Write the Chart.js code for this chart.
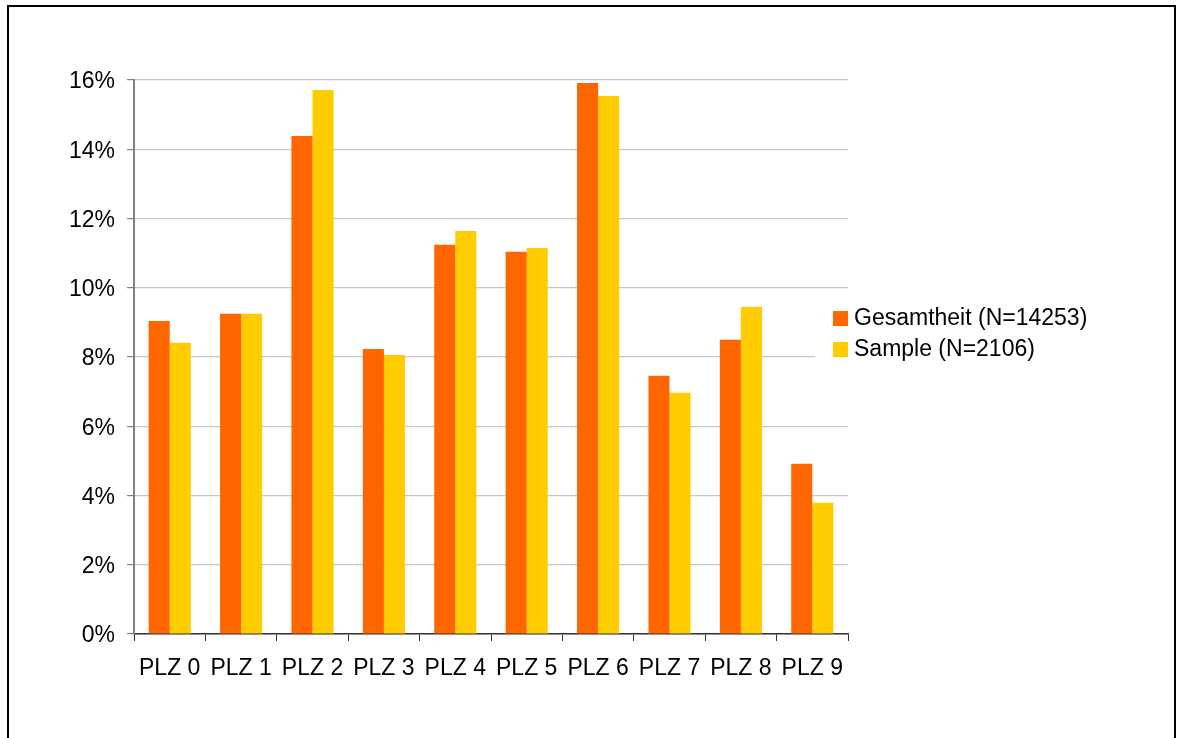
<!DOCTYPE html>
<html>
<head>
<meta charset="utf-8">
<script src="https://cdn.jsdelivr.net/npm/chart.js@4"></script>
<style>
  body { margin: 0; background: #fff; }
  #wrap { position: relative; width: 1183px; height: 738px; }
  #frame { position: absolute; left: 7px; top: 5px; width: 1169px; height: 760px;
           border: 2px solid #000; border-bottom: none; box-sizing: border-box; }
  canvas { position: absolute; left: 0; top: 0; }
</style>
</head>
<body>
<div id="wrap">
  <div id="frame"></div>
  <canvas id="plzChart" width="1183" height="738"></canvas>
</div>
<script>
// Daten
const categories = ['PLZ 0', 'PLZ 1', 'PLZ 2', 'PLZ 3', 'PLZ 4', 'PLZ 5', 'PLZ 6', 'PLZ 7', 'PLZ 8', 'PLZ 9'];
const gesamtheit = [9.04, 9.25, 14.38, 8.23, 11.24, 11.04, 15.91, 7.46, 8.50, 4.92];
const sample = [8.41, 9.25, 15.71, 8.06, 11.64, 11.15, 15.54, 6.97, 9.45, 3.79];
const yTicks = [0, 2, 4, 6, 8, 10, 12, 14, 16];

const FONT = { family: '"Liberation Sans", Arial, sans-serif', size: 23 };

// Legende rechts, mit weissem Kasten über dem Gitter
const sideLegend = {
  id: 'sideLegend',
  afterDraw(chart) {
    const c = chart.ctx;
    const area = chart.chartArea;
    const x0 = area.right - 33;
    const y0 = 298;
    c.save();
    c.fillStyle = '#fff';
    c.fillRect(x0, y0, 300, 70);
    c.font = FONT.size + 'px ' + FONT.family;
    c.textBaseline = 'middle';
    chart.data.datasets.forEach((ds, i) => {
      const cy = y0 + 20 + i * 31;
      c.fillStyle = ds.backgroundColor;
      c.fillRect(x0 + 18, cy - 7, 15, 15);
      c.fillStyle = '#000';
      c.fillText(ds.label, x0 + 39, cy + 1);
    });
    c.restore();
  }
};

const ctx = document.getElementById('plzChart').getContext('2d');
new Chart(ctx, {
  type: 'bar',
  data: {
    labels: categories,
    datasets: [
      { label: 'Gesamtheit (N=14253)', data: gesamtheit, backgroundColor: '#ff6600' },
      { label: 'Sample (N=2106)', data: sample, backgroundColor: '#ffcc00' }
    ]
  },
  options: {
    responsive: false,
    animation: false,
    layout: { padding: { left: 0, top: 80, right: 335, bottom: 0 } },
    plugins: {
      legend: { display: false },
      tooltip: { enabled: false }
    },
    datasets: { bar: { categoryPercentage: 0.59, barPercentage: 1 } },
    scales: {
      x: {
        afterFit: s => { s.height = 104; },
        grid: { offset: true, drawOnChartArea: false, tickLength: 7, tickColor: '#333' },
        border: { color: '#333', width: 1.5 },
        ticks: { color: '#000', font: FONT, padding: 14, maxRotation: 0 }
      },
      y: {
        min: 0,
        max: 16,
        afterFit: s => { s.width = 134; },
        afterBuildTicks: s => { s.ticks = yTicks.map(v => ({ value: v })); },
        grid: { color: '#c6c6c6', lineWidth: 1.2, tickLength: 7, tickColor: '#808080' },
        border: { color: '#808080', width: 2 },
        ticks: { color: '#000', font: FONT, padding: 12, labelOffset: 2, callback: v => v + '%' }
      }
    }
  },
  plugins: [sideLegend]
});
</script>
</body>
</html>
